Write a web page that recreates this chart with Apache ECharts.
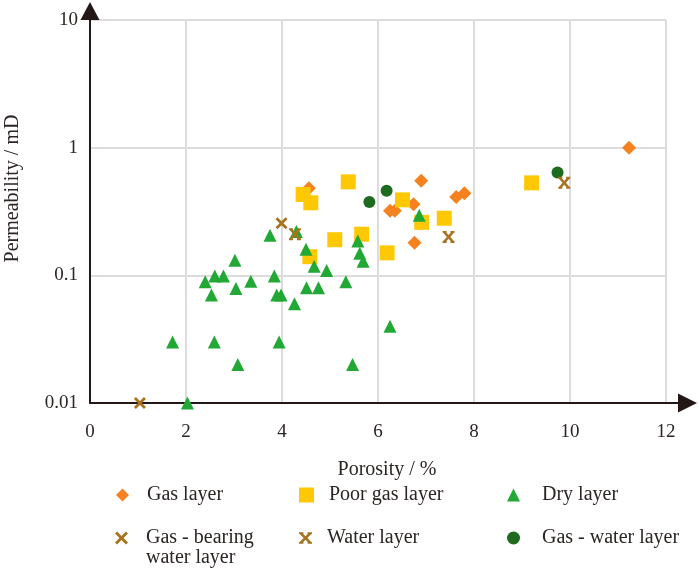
<!DOCTYPE html>
<html><head><meta charset="utf-8">
<script src="https://cdn.jsdelivr.net/npm/echarts@6/dist/echarts.min.js"></script>
<style>html,body{margin:0;padding:0;background:#fff}#c{width:699px;height:568px}</style>
</head><body><div id="c"></div>
<script>
// Porosity (%) and permeability (mD)
const gasPor  = [4.56, 6.25, 6.35, 6.74, 6.90, 6.76, 7.63, 7.80, 11.23];
const gasPerm = [0.48, 0.32, 0.32, 0.36, 0.55, 0.18, 0.41, 0.44, 1.00];

const poorPor  = [4.44, 4.60, 5.38, 6.51, 6.91, 7.38, 5.10, 5.66, 4.58, 6.19, 9.20];
const poorPerm = [0.43, 0.37, 0.54, 0.39, 0.26, 0.28, 0.19, 0.21, 0.14, 0.15, 0.53];

const dryPor  = [3.75, 4.30, 4.50, 4.67, 4.93, 5.58, 5.62, 5.69, 3.02, 2.40, 2.60, 2.78, 2.53, 3.04, 3.35,
                 3.84, 3.89, 3.98, 4.26, 4.51, 4.76, 5.33, 6.25, 1.72, 2.59, 3.94, 3.08, 5.47, 2.03, 6.86];
const dryPerm = [0.206, 0.22, 0.16, 0.118, 0.109, 0.186, 0.149, 0.129, 0.131, 0.089, 0.099, 0.099, 0.070, 0.079, 0.090,
                 0.099, 0.070, 0.070, 0.060, 0.080, 0.080, 0.089, 0.040, 0.030, 0.030, 0.030, 0.020, 0.020, 0.010, 0.295];

const gbwPor  = [3.99, 1.04];
const gbwPerm = [0.256, 0.010];

const waterPor  = [4.27, 7.47, 9.88];
const waterPerm = [0.21, 0.20, 0.53];

const gwPor  = [5.82, 6.18, 9.74];
const gwPerm = [0.375, 0.46, 0.64];

const seriesNames = ['Gas layer', 'Poor gas layer', 'Dry layer', 'Gas - bearing water layer', 'Water layer', 'Gas - water layer'];
const legendLabels = ['Gas layer', 'Poor gas layer', 'Dry layer', '\u00a0\nGas - bearing\nwater layer', 'Water layer', 'Gas - water layer'];

const xMin = 0, xMax = 12, xStep = 2;
const yMin = 0.01, yMax = 10;

function pairs(xs, ys) { return xs.map((v, i) => [v, ys[i]]); }

const FONT = '"Liberation Serif", "Times New Roman", serif';
const TXT = '#2b2523';
const AX = '#231815';
const crossPath = 'path://M0,1.6 L1.6,0 L5,3.4 L8.4,0 L10,1.6 L6.6,5 L10,8.4 L8.4,10 L5,6.6 L1.6,10 L0,8.4 L3.4,5 Z';
const serifCross = 'path://M0,1.6 L1.6,0 L5,3.4 L8.4,0 L10,1.6 L6.6,5 L10,8.4 L8.4,10 L5,6.6 L1.6,10 L0,8.4 L3.4,5 Z M-0.6,0 L3.2,0 L3.2,1.6 L-0.6,1.6 Z M6.8,0 L10.6,0 L10.6,1.6 L6.8,1.6 Z M-0.6,8.4 L3.2,8.4 L3.2,10 L-0.6,10 Z M6.8,8.4 L10.6,8.4 L10.6,10 L6.8,10 Z';

const styles = [
  { symbol: 'diamond', size: 14, color: '#F5821F', z: 2 },
  { symbol: 'rect', size: 15, color: '#FFC805', z: 3 },
  { symbol: 'triangle', size: 13, color: '#22A835', z: 4 },
  { symbol: crossPath, size: 12, color: '#A8731E', z: 6 },
  { symbol: serifCross, size: 12, color: '#A8731E', z: 6 },
  { symbol: 'circle', size: 12, color: '#1C6B1E', z: 5 }
];
const dataSets = [
  pairs(gasPor, gasPerm), pairs(poorPor, poorPerm), pairs(dryPor, dryPerm),
  pairs(gbwPor, gbwPerm), pairs(waterPor, waterPerm), pairs(gwPor, gwPerm)
];

const series = seriesNames.map((n, i) => ({
  name: n, type: 'scatter', data: dataSets[i],
  symbol: styles[i].symbol, symbolSize: styles[i].size,
  itemStyle: { color: styles[i].color, opacity: 1 },
  z: styles[i].z, clip: false, emphasis: { disabled: true }
}));

const legendPos = [
  { left: 116, top: 485 }, { left: 299, top: 485 }, { left: 507, top: 485 },
  { left: 115, top: 508 }, { left: 299, top: 528 }, { left: 507, top: 528 }
];
const textPad = [13, 10, 17, 13, 10, 17];
const legends = seriesNames.map((n, i) => ({
  data: [{ name: n, icon: styles[i].symbol }],
  left: legendPos[i].left, top: legendPos[i].top, padding: 0,
  itemWidth: i === 1 ? 15 : 13, itemHeight: i === 1 ? 15 : 13,
  selectedMode: false,
  formatter: () => legendLabels[i],
  textStyle: { fontFamily: FONT, fontSize: 20, color: TXT, lineHeight: 20,
               padding: [0, 0, 0, textPad[i]] }
}));

const chart = echarts.init(document.getElementById('c'), null, { renderer: 'canvas' });
chart.setOption({
  backgroundColor: '#ffffff',
  animation: false,
  grid: { left: 90, right: 33, top: 20, bottom: 165, containLabel: false, outerBoundsMode: 'none' },
  legend: legends,
  xAxis: {
    type: 'value', min: xMin, max: xMax, interval: xStep,
    name: 'Porosity / %', nameLocation: 'middle', nameGap: 57,
    nameTextStyle: { fontFamily: FONT, fontSize: 20, color: TXT, padding: [0, 0, 0, 18] },
    axisLine: { show: true, lineStyle: { color: AX, width: 2 },
      symbol: ['none', 'path://M9.5,0 L19,19 L10.5,19 L10.5,31 L8.5,31 L8.5,19 L0,19 Z'],
      symbolSize: [19, 31], symbolOffset: [0, 15.5] },
    axisTick: { show: false },
    axisLabel: { fontFamily: FONT, fontSize: 19, color: TXT, margin: 20 },
    splitLine: { show: true, lineStyle: { color: '#dcdcdc', width: 2 } }
  },
  yAxis: {
    type: 'log', logBase: 10, min: yMin, max: yMax,
    name: 'Permeability / mD', nameLocation: 'middle', nameGap: 67,
    nameTextStyle: { fontFamily: FONT, fontSize: 20, color: TXT, padding: [0, 0, 0, 46] },
    axisLine: { show: true, lineStyle: { color: AX, width: 2 },
      symbol: ['none', 'path://M9.5,0 L19,18 L0,18 Z'],
      symbolSize: [19, 18], symbolOffset: [0, 9] },
    axisTick: { show: false },
    axisLabel: { fontFamily: FONT, fontSize: 19, color: TXT, margin: 12,
      formatter: v => String(v) },
    splitLine: { show: true, lineStyle: { color: '#dcdcdc', width: 2 } }
  },
  series: series
});
</script>
</body></html>
